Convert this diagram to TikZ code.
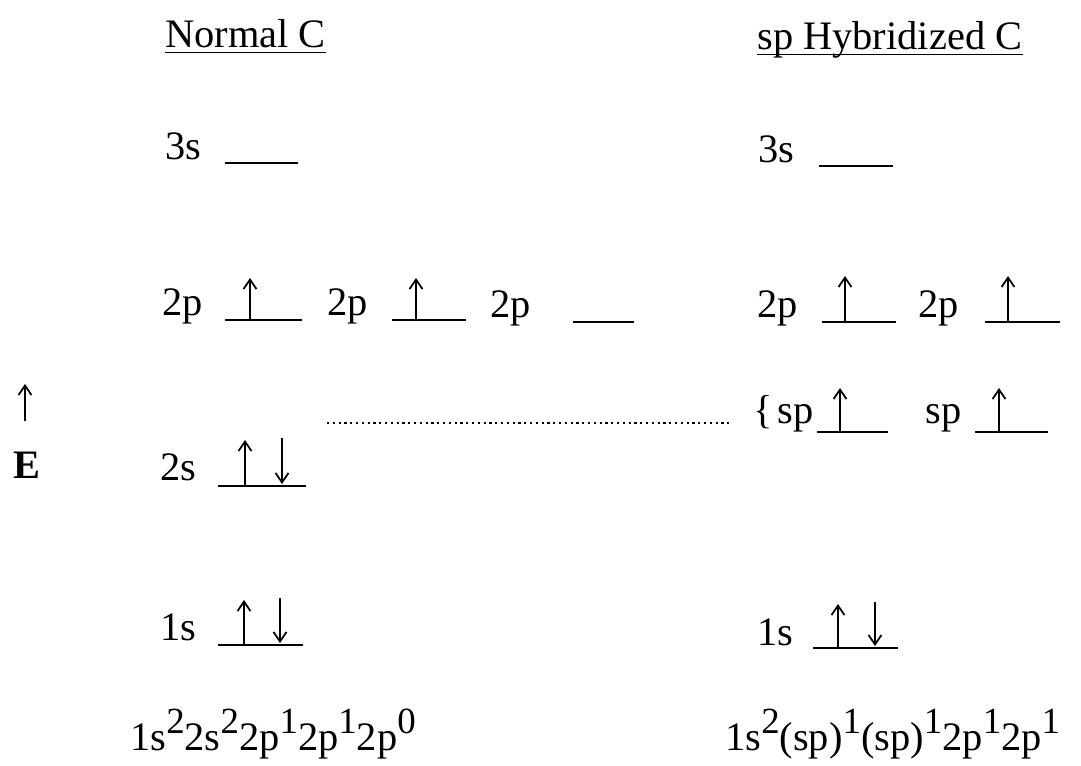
\documentclass[tikz,border=0pt]{standalone}
\usepackage{fontspec}
\setmainfont{Liberation Serif}
\usetikzlibrary{arrows.meta}
\newcommand{\ex}[1]{\raisebox{0.42em}{\fontsize{21}{21}\selectfont #1}}

\begin{document}
\begin{tikzpicture}[
  x=0.2mm, y=-0.2mm,
  font=\fontsize{23}{28}\selectfont,
  lbl/.style={anchor=base west, inner sep=0pt},
  lvl/.style={line width=1.2pt},
  uline/.style={line width=1pt},
  el/.style={-{Straight Barb[length=1.9mm, width=2.6mm]}, line width=1pt},
  dots/.style={dotted, line width=1.3pt}
]
\useasboundingbox (0,0) rectangle (1081,766);
% headings
\node[lbl] (tnorm) at (165,48) {Normal C};
\draw[uline] ([yshift=-2.5pt]tnorm.base west) -- ([yshift=-2.5pt]tnorm.base east);
\node[lbl] (thyb) at (757,50) {sp Hybridized C};
\draw[uline] ([yshift=-2.5pt]thyb.base west) -- ([yshift=-2.5pt]thyb.base east);
% energy axis
\coordinate (ebot) at (25,421);
\coordinate (etop) at (25,384);
\draw[el] (ebot) -- (etop);
\node[lbl] (e) at (13,478) {\textbf{E}};

% normal carbon
\node[lbl] (n3s) at (165,160) {3s};
\draw[lvl] (225,163) -- (298,163);
\node[lbl] (n2pa) at (162,315) {2p};
\draw[lvl] (225,320) -- (302,320);
\draw[el] (250,320) -- (250,278);
\node[lbl] (n2pb) at (327,315) {2p};
\draw[lvl] (392,320) -- (466,320);
\draw[el] (416,320) -- (416,278);
\node[lbl] (n2pc) at (490,317) {2p};
\draw[lvl] (573,322) -- (634,322);
\node[lbl] (n2s) at (160,480) {2s};
\draw[lvl] (218,486) -- (306,486);
\draw[el] (245,486) -- (245,440);
\draw[el] (282,438) -- (282,484);
\node[lbl] (n1s) at (160,640) {1s};
\draw[lvl] (218,645) -- (303,645);
\draw[el] (244,645) -- (244,600);
\draw[el] (280,598) -- (280,643);
\node[lbl] (ncfg) at (130,750) {1s\ex{2}2s\ex{2}2p\ex{1}2p\ex{1}2p\ex{0}};

% dotted guide
\coordinate (dl) at (327,423);
\coordinate (dr) at (730,423);
\draw[dots] (dl) -- (dr);

% sp hybridized carbon
\node[lbl] (h3s) at (758,162) {3s};
\draw[lvl] (819,166) -- (893,166);
\node[lbl] (h2pa) at (757,317) {2p};
\draw[lvl] (822,322) -- (896,322);
\draw[el] (845,322) -- (845,276);
\node[lbl] (h2pb) at (918,317) {2p};
\draw[lvl] (985,322) -- (1060,322);
\draw[el] (1008,322) -- (1008,276);
\node[lbl] (brace) at (753,423) {\{};
\node[lbl] (hspa) at (777,423) {sp};
\draw[lvl] (817,432) -- (888,432);
\draw[el] (840,432) -- (840,388);
\node[lbl] (hspb) at (925,423) {sp};
\draw[lvl] (975,432) -- (1048,432);
\draw[el] (999,432) -- (999,388);
\node[lbl] (h1s) at (757,645) {1s};
\draw[lvl] (813,648) -- (898,648);
\draw[el] (838,648) -- (838,604);
\draw[el] (875,602) -- (875,646);
\node[lbl] (hcfg) at (725,750) {1s\ex{2}(sp)\ex{1}(sp)\ex{1}2p\ex{1}2p\ex{1}};
\end{tikzpicture}
\end{document}
